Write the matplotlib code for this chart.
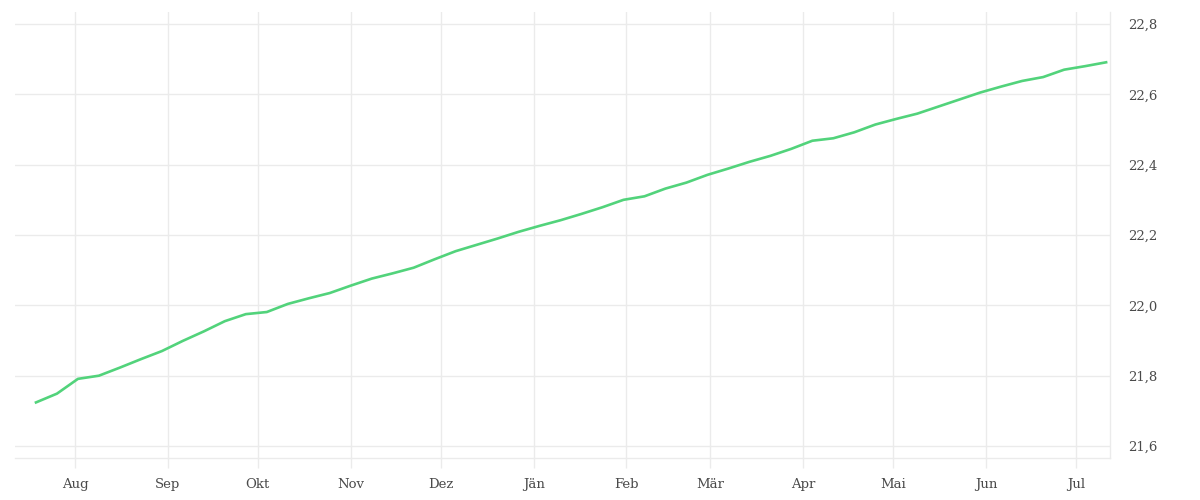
import matplotlib
matplotlib.use("Agg")
import matplotlib.pyplot as plt
import matplotlib.dates as mdates
from matplotlib.ticker import FuncFormatter, MultipleLocator
import numpy as np
import pandas as pd

# weekly values
start_date = "2022-07-19"
values = [
    21.724, 21.749, 21.791, 21.800, 21.823, 21.847, 21.870, 21.899, 21.926, 21.955,
    21.975, 21.981, 22.004, 22.020, 22.035, 22.056, 22.076, 22.091, 22.107, 22.131,
    22.154, 22.172, 22.190, 22.209, 22.226, 22.242, 22.260, 22.279, 22.300, 22.310,
    22.332, 22.349, 22.371, 22.389, 22.408, 22.425, 22.445, 22.468, 22.475, 22.492,
    22.514, 22.530, 22.545, 22.565, 22.585, 22.605, 22.622, 22.638, 22.649, 22.670,
    22.680, 22.691,
]
dates = pd.date_range(start_date, periods=len(values), freq="7D")
month_labels = ["Jän", "Feb", "Mär", "Apr", "Mai", "Jun",
                "Jul", "Aug", "Sep", "Okt", "Nov", "Dez"]

grid_col = "#ebebeb"
text_col = "#4a4a4a"

plt.rcParams["font.family"] = ["DejaVu Serif"]

fig = plt.figure(figsize=(12, 5), dpi=100)
ax = fig.add_axes([15 / 1200, 1 - 458 / 500, 1095 / 1200, 446 / 500])

ax.plot(dates, values, color="#52d37b", linewidth=1.9, solid_joinstyle="round")

ax.set_xlim(dates[0] - pd.Timedelta(days=7), dates[-1] + pd.Timedelta(days=1.3))
ax.set_ylim(21.566, 22.834)

ax.xaxis.set_major_locator(mdates.MonthLocator())
ax.xaxis.set_major_formatter(FuncFormatter(lambda x, p: month_labels[mdates.num2date(x).month - 1]))
ax.yaxis.set_major_locator(MultipleLocator(0.2))
ax.yaxis.set_major_formatter(FuncFormatter(lambda y, p: f"{y:.1f}".replace(".", ",")))

ax.yaxis.tick_right()
ax.grid(True, color=grid_col, linewidth=1)
ax.set_axisbelow(True)

for side in ["top", "left"]:
    ax.spines[side].set_visible(False)
for side in ["bottom", "right"]:
    ax.spines[side].set_color(grid_col)
    ax.spines[side].set_linewidth(1)

ax.tick_params(axis="x", length=7.5, width=1, color=grid_col, pad=7,
               labelsize=9.5, labelcolor=text_col)
ax.tick_params(axis="y", length=0, pad=13, labelsize=9.5, labelcolor=text_col)

fig.savefig("out.png", dpi=100)
